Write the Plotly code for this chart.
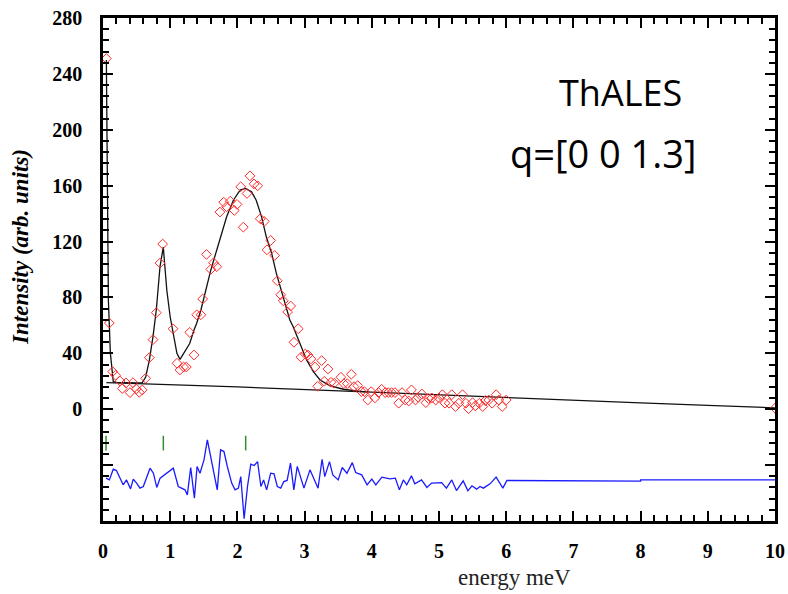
import plotly.graph_objects as go

# Measured intensities (energy in meV, intensity in arb. units)
energy = [0.05, 0.094, 0.144, 0.188, 0.253, 0.287, 0.342, 0.402, 0.446, 0.496, 0.540, 0.585,
          0.635, 0.689, 0.744, 0.793, 0.848, 0.888, 1.042, 1.101, 1.146, 1.20, 1.24, 1.29,
          1.354, 1.394, 1.457, 1.483, 1.54, 1.604, 1.645, 1.693, 1.74, 1.796, 1.84, 1.894,
          1.954, 1.994, 2.049, 2.088, 2.143, 2.187, 2.247, 2.301, 2.34, 2.40, 2.44, 2.495,
          2.555, 2.594, 2.644, 2.683, 2.748, 2.793, 2.842, 2.906, 2.946, 3.01, 3.05, 3.095,
          3.155, 3.195, 3.254, 3.293, 3.348, 3.393, 3.44, 3.54, 3.585, 3.635, 3.695, 3.735,
          3.79, 3.845, 3.89, 3.94, 3.99, 4.047, 4.10, 4.146, 4.20, 4.245, 4.295, 4.345,
          4.40, 4.45, 4.497, 4.55, 4.59, 4.65, 4.69, 4.745, 4.805, 4.845, 4.894, 4.95,
          5.00, 5.05, 5.09, 5.15, 5.19, 5.245, 5.295, 5.35, 5.40, 5.44, 5.50, 5.54,
          5.60, 5.65, 5.69, 5.74, 5.79, 5.85, 5.89, 5.94, 6.00, 10.0]
intensity = [251, 61.7, 26.9, 24.3, 20.2, 14.8, 18.8, 11.9, 19.0, 14.5, 12.1, 13.8,
             22.1, 36.9, 49.8, 69.1, 104.6, 118.2, 57.6, 32.9, 28.1, 30.2, 30.2, 55.0,
             38.8, 67.6, 67.6, 78.9, 110.8, 100.1, 104.8, 102.0, 141.1, 148.2, 144.9, 148.9,
             142.3, 146.6, 159.2, 130.3, 154.4, 167.0, 161.3, 159.9, 136.3, 134.4, 114.1, 120.8,
             110.1, 91.9, 81.9, 77.6, 69.6, 73.9, 47.9, 57.6, 37.2, 39.5, 38.8, 36.0,
             30.2, 16.4, 34.8, 20.0, 28.8, 19.3, 18.6, 22.9, 18.3, 18.3, 25.0, 16.2,
             16.9, 12.6, 12.6, 6.6, 12.6, 8.1, 11.9, 14.3, 11.9, 11.9, 11.9, 11.9,
             4.3, 11.9, 6.6, 5.9, 13.8, 6.6, 8.6, 10.9, 4.7, 7.6, 8.1, 6.6,
             8.1, 10.4, 4.3, 4.3, 10.4, 1.9, 4.3, 10.4, 4.3, 0.4, 4.7, 2.4,
             4.3, 1.9, 6.2, 6.6, 4.3, 10.4, 6.6, 1.9, 6.6, 0.7]

# Fitted curve
fit_energy = [0.05, 0.08, 0.11, 0.153, 0.2, 0.3, 0.4, 0.5, 0.585, 0.635, 0.689, 0.744,
              0.793, 0.848, 0.897, 0.95, 1.0, 1.042, 1.1, 1.146, 1.2, 1.29, 1.354, 1.394,
              1.457, 1.54, 1.604, 1.693, 1.74, 1.84, 1.94, 2.04, 2.12, 2.21, 2.28, 2.36,
              2.43, 2.51, 2.58, 2.68, 2.78, 2.83, 2.93, 3.03, 3.13, 3.23, 3.38, 3.58,
              3.77, 3.95]
fit_intensity = [250, 78, 40, 19.7, 19.2, 19.0, 18.9, 18.8, 19.0, 23, 35, 52,
                 71, 102, 116, 85, 66, 54.5, 40, 35.7, 40, 47, 56.7, 61.5,
                 71, 87.7, 99.6, 114, 122, 137.7, 149.6, 156.8, 158, 155.6, 149.6, 137.7,
                 123.4, 111.5, 97.2, 80.5, 63.9, 59, 47.2, 35.3, 26.9, 20.9, 16.7, 14.3,
                 13.1, 12.2]

# Linear background
bg_energy = [0.05, 2.0, 4.0, 6.0, 7.0, 8.0, 9.0, 10.0]
bg_intensity = [19.0, 16.0, 12.2, 8.2, 6.4, 4.6, 2.8, 1.0]

# Residual trace (shifted below zero)
res_energy = [0.045, 0.094, 0.153, 0.2, 0.30, 0.35, 0.41, 0.45, 0.5, 0.55, 0.6, 0.7,
              0.75, 0.8, 0.85, 1.046, 1.12, 1.22, 1.255, 1.305, 1.36, 1.40, 1.443, 1.503,
              1.553, 1.59, 1.64, 1.70, 1.75, 1.80, 1.85, 1.915, 1.965, 2.015, 2.05, 2.10,
              2.15, 2.20, 2.25, 2.30, 2.35, 2.39, 2.435, 2.495, 2.545, 2.594, 2.644, 2.69,
              2.74, 2.79, 2.84, 2.89, 2.93, 2.99, 3.08, 3.20, 3.26, 3.30, 3.37, 3.42,
              3.50, 3.56, 3.63, 3.71, 3.76, 3.85, 3.93, 4.0, 4.06, 4.15, 4.27, 4.35,
              4.41, 4.47, 4.52, 4.59, 4.64, 4.74, 4.82, 4.89, 5.04, 5.11, 5.19, 5.26,
              5.36, 5.43, 5.49, 5.56, 5.61, 5.66, 5.76, 5.85, 5.95, 6.01, 8.0, 8.0, 10.0]
res_value = [-49.3, -50.6, -42.9, -43.9, -54.1, -50.6, -57.0, -50.0, -52.9, -56.5, -55.3, -42.2,
             -45.8, -56.0, -49.3, -42.2, -55.3, -57.7, -61.3, -41.7, -63.6, -41.0, -45.8, -36.3,
             -22.0, -31.5, -43.4, -57.7, -29.1, -30.3, -41.0, -52.9, -57.7, -56.5, -48.2, -78.4,
             -55.3, -39.3, -40.3, -37.5, -55.3, -50.6, -57.7, -45.8, -46.3, -55.3, -56.5, -51.8,
             -51.0, -38.6, -57.7, -41.0, -47.0, -56.5, -43.4, -56.5, -35.8, -48.2, -37.5, -47.0,
             -50.6, -41.7, -45.8, -38.2, -45.3, -47.0, -54.1, -50.0, -54.1, -48.6, -49.8, -49.3,
             -57.7, -50.6, -54.1, -47.7, -53.4, -50.6, -56.0, -52.9, -52.5, -56.5, -50.6, -58.2,
             -51.3, -58.4, -54.8, -57.2, -55.3, -56.5, -53.4, -48.6, -56.5, -51.0, -51.5, -50.6, -50.6]

# Peak position markers
peak_positions = [0.045, 0.898, 2.123]
peak_mark_top = -19
peak_mark_bottom = -29.5

y_tick_vals = [-80, -40, 0, 40, 80, 120, 160, 200, 240, 280]
y_tick_text = ["", "", "0", "40", "80", "120", "160", "200", "240", "280"]

peak_x, peak_y = [], []
for p in peak_positions:
    peak_x += [p, p, None]
    peak_y += [peak_mark_top, peak_mark_bottom, None]

fig = go.Figure()
fig.add_trace(go.Scatter(x=bg_energy, y=bg_intensity, mode="lines",
                         line=dict(color="#111111", width=1.2), showlegend=False))
fig.add_trace(go.Scatter(x=fit_energy, y=fit_intensity, mode="lines",
                         line=dict(color="#111111", width=1.3), showlegend=False))
fig.add_trace(go.Scatter(x=energy, y=intensity, mode="markers",
                         marker=dict(symbol="diamond-open", size=7.5, color="#ff2a2a",
                                     line=dict(width=1, color="#ff2a2a")),
                         showlegend=False))
fig.add_trace(go.Scatter(x=res_energy, y=res_value, mode="lines",
                         line=dict(color="#1a1aff", width=1.3), showlegend=False))
fig.add_trace(go.Scatter(x=peak_x, y=peak_y, mode="lines",
                         line=dict(color="#2e8f2e", width=1.5), showlegend=False))

tickfont = dict(family="Liberation Serif", size=20, color="black", weight="bold")

fig.update_xaxes(range=[0, 10], tickmode="linear", tick0=0, dtick=1,
                 ticks="inside", ticklen=10, tickwidth=2, tickcolor="black",
                 minor=dict(dtick=0.2, ticks="inside", ticklen=6, tickwidth=1.5, tickcolor="black"),
                 mirror="ticks", showline=True, linewidth=2.5, linecolor="black",
                 showgrid=False, zeroline=False, tickfont=tickfont, ticklabelstandoff=10,
                 automargin=False)
fig.update_yaxes(range=[-80, 280], tickmode="array", tickvals=y_tick_vals, ticktext=y_tick_text,
                 ticks="inside", ticklen=10, tickwidth=2, tickcolor="black",
                 minor=dict(tickmode="linear", tick0=0, dtick=8, ticks="inside", ticklen=6,
                            tickwidth=1.5, tickcolor="black"),
                 mirror="ticks", showline=True, linewidth=2.5, linecolor="black",
                 showgrid=False, zeroline=False, tickfont=tickfont, ticklabelstandoff=14,
                 automargin=False)

fig.add_annotation(text="energy meV", xref="paper", yref="paper", x=0.613, y=-0.113,
                   xanchor="center", yanchor="middle", showarrow=False,
                   font=dict(family="Liberation Serif", size=23, color="#222222"))
fig.add_annotation(text="Intensity (arb. units)", xref="paper", yref="paper",
                   x=-0.122, y=0.545, textangle=-90, xanchor="center", yanchor="middle",
                   showarrow=False,
                   font=dict(family="Liberation Serif", size=23, color="black",
                             weight="bold", style="italic"))
fig.add_annotation(text="ThALES", xref="paper", yref="paper", x=0.770, y=0.851,
                   xanchor="center", yanchor="middle", showarrow=False,
                   font=dict(family="Open Sans", size=36, color="black"))
fig.add_annotation(text="q=[0 0 1.3]", xref="paper", yref="paper", x=0.744, y=0.732,
                   xanchor="center", yanchor="middle", showarrow=False,
                   font=dict(family="Open Sans", size=38, color="black"))

fig.update_layout(width=788, height=594, margin=dict(l=103, r=13, t=18, b=73),
                  paper_bgcolor="white", plot_bgcolor="white", showlegend=False)

fig.write_html("out.html")
